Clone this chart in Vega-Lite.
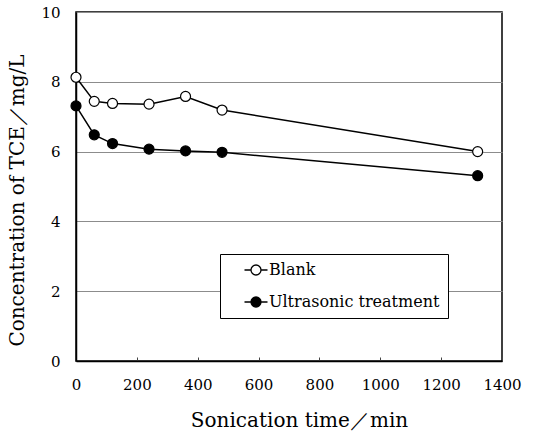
{
  "$schema": "https://vega.github.io/schema/vega-lite/v6.json",
  "width": 426,
  "height": 349,
  "autosize": {"type": "none"},
  "padding": {"left": 76, "top": 12, "right": 43, "bottom": 73},
  "background": "white",
  "config": {
    "font": "DejaVu Serif",
    "view": {"stroke": "black", "strokeWidth": 1.5},
    "axis": {"domainColor": "black", "labelColor": "black", "titleColor": "black", "labelFont": "DejaVu Serif", "titleFont": "DejaVu Serif", "titleFontWeight": "normal"}
  },
  "data": {
    "values": [
      {"time": 0, "conc": 8.13, "series": "Blank"},
      {"time": 60, "conc": 7.44, "series": "Blank"},
      {"time": 120, "conc": 7.38, "series": "Blank"},
      {"time": 240, "conc": 7.36, "series": "Blank"},
      {"time": 360, "conc": 7.58, "series": "Blank"},
      {"time": 480, "conc": 7.19, "series": "Blank"},
      {"time": 1320, "conc": 6.0, "series": "Blank"},
      {"time": 0, "conc": 7.31, "series": "Ultrasonic treatment"},
      {"time": 60, "conc": 6.48, "series": "Ultrasonic treatment"},
      {"time": 120, "conc": 6.23, "series": "Ultrasonic treatment"},
      {"time": 240, "conc": 6.07, "series": "Ultrasonic treatment"},
      {"time": 360, "conc": 6.02, "series": "Ultrasonic treatment"},
      {"time": 480, "conc": 5.98, "series": "Ultrasonic treatment"},
      {"time": 1320, "conc": 5.31, "series": "Ultrasonic treatment"}
    ]
  },
  "encoding": {
    "x": {
      "field": "time", "type": "quantitative",
      "scale": {"domain": [0, 1400], "nice": false, "zero": true},
      "axis": {
        "title": "Sonication time／min",
        "values": [0, 200, 400, 600, 800, 1000, 1200, 1400],
        "format": "d",
        "grid": false, "tickSize": -4, "tickColor": "#444", "tickWidth": 1,
        "labelFontSize": 15, "labelPadding": 20, "titleFontSize": 20, "titlePadding": 18,
        "titleX": 223,
        "domainWidth": 1.5, "labelFlush": false
      }
    },
    "y": {
      "field": "conc", "type": "quantitative",
      "scale": {"domain": [0, 10], "nice": false},
      "axis": {
        "title": "Concentration of TCE／mg/L",
        "values": [0, 2, 4, 6, 8, 10],
        "grid": true, "gridColor": "#8c8c8c", "gridWidth": 1,
        "ticks": false, "labelFontSize": 15, "labelPadding": 16,
        "titleFontSize": 20, "titlePadding": 13, "titleY": 188, "domainWidth": 1.5
      }
    }
  },
  "layer": [
    {
      "mark": {"type": "line", "color": "black", "strokeWidth": 1.5},
      "encoding": {"detail": {"field": "series"}}
    },
    {
      "mark": {"type": "point", "shape": "circle", "size": 100, "stroke": "black", "strokeWidth": 1.2, "filled": false, "fillOpacity": 1, "opacity": 1},
      "encoding": {
        "fill": {
          "field": "series", "type": "nominal",
          "scale": {"domain": ["Blank", "Ultrasonic treatment"], "range": ["white", "black"]},
          "legend": {
            "title": null, "orient": "none", "legendX": 144, "legendY": 242,
            "direction": "vertical",
            "strokeColor": "black", "fillColor": "white",
            "padding": 8,
            "symbolOffset": 20,
            "symbolType": "M-2.3,0H-1M1,0H2.3M1,0A1,1 0 1,1 -1,0A1,1 0 1,1 1,0Z",
            "symbolSize": 100, "symbolStrokeColor": "black", "symbolStrokeWidth": 1.3,
            "labelFontSize": 16, "labelFont": "DejaVu Serif", "labelColor": "black",
            "labelExpr": "datum.label + '\u00a0\u00a0\u00a0\u00a0\u00a0'",
            "labelOffset": 5, "rowPadding": 16, "labelLimit": 300
          }
        }
      }
    }
  ]
}
